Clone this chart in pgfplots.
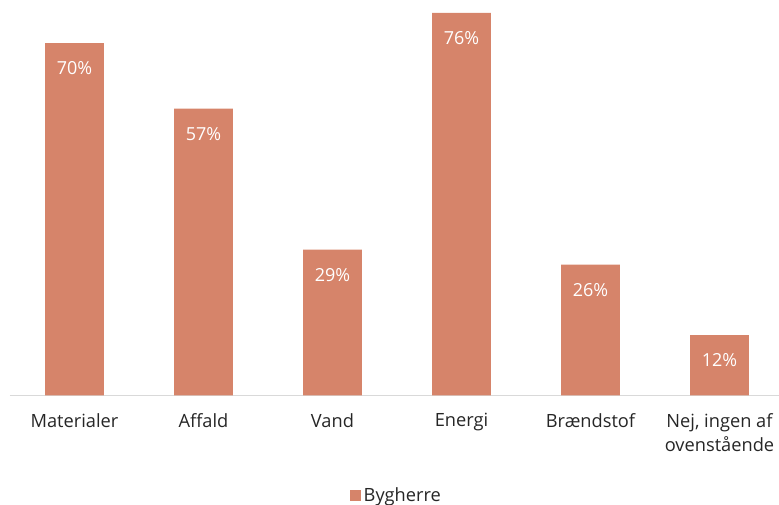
\documentclass[border=0pt]{standalone}
\usepackage{fontspec}
\setmainfont{Open Sans}
\usepackage{pgfplots}
\pgfplotsset{compat=1.18}
\usetikzlibrary{calc}
\definecolor{barcol}{HTML}{D6846A}
\definecolor{axgray}{HTML}{D9D9D9}
\begin{document}
\begin{tikzpicture}
\begin{axis}[
    name=ax,
    scale only axis,
    width=581.25pt, height=287.25pt,
    xmin=-0.5, xmax=5.5,
    ymin=0, ymax=76,
    axis y line=none,
    axis x line*=bottom,
    x axis line style={draw=axgray, line width=0.75pt, -},
    xtick=data,
    xticklabels={Materialer, Affald, Vand, Energi, Brændstof, {Nej, ingen af\\ovenstående}},
    xtick style={draw=none},
    xticklabel style={align=center, anchor=north, font=\fontsize{13.7}{18.5}\selectfont, text=black!85, yshift=-5.5pt},
    ybar, bar width=44.25pt,
    nodes near coords={\pgfmathprintnumber[assume math mode=true]{\pgfplotspointmeta}\%},
    every node near coord/.append style={anchor=center, yshift=-19pt, text=white, font=\fontsize{13.5}{15}\selectfont},
    legend style={at={(0.5,0)}, anchor=center, yshift=-75.5pt, draw=none, font=\fontsize{13.7}{15}\selectfont, text=black!85},
    legend image code/.code={\fill[barcol] (0cm,-0.13cm) rectangle (0.28cm,0.15cm);},
    clip=false,
]
\addplot[fill=barcol, draw=none] coordinates {(0,70) (1,57) (2,29) (3,76) (4,26) (5,12)};
\addlegendentry{Bygherre}
\end{axis}
\pgfresetboundingbox
\path ($(ax.south west)+(-7.5pt,-81.75pt)$) rectangle ($(ax.north east)+(-3.75pt,9.75pt)$);
\end{tikzpicture}
\end{document}
